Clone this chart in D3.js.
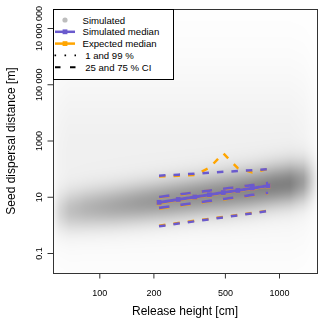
<!DOCTYPE html>
<html><head><meta charset="utf-8">
<script src="https://cdn.jsdelivr.net/npm/d3@7"></script>
<style>
body{margin:0;background:#fff;}
#wrap{position:relative;width:320px;height:325px;overflow:hidden;}
canvas,svg{position:absolute;left:0;top:0;}
text{font-family:"Liberation Sans",Arial,Helvetica,sans-serif;fill:#000;}
</style></head><body><div id="wrap"></div>
<script>
// ---- data ----
const heights   = [215, 275, 340, 410, 490, 590, 710, 870];          // release height [cm]
const simMedian = [6.3, 8.0, 9.8, 11.8, 14.1, 16.7, 20.2, 24.5];
const sim75     = [9.8, 12.0, 14.2, 16.6, 19.2, 22.1, 26.0, 30.6];
const sim25     = [4.0, 5.0, 6.0, 7.1, 8.3, 9.8, 11.6, 13.9];
const sim99     = [56, 61, 66, 72, 77, 82, 88, 96];
const sim01     = [0.89, 1.11, 1.34, 1.58, 1.85, 2.17, 2.58, 3.1];
const expMedian = [6.0, 7.8, 9.6, 11.5, 13.8, 16.4, 19.8, 24.0];
const exp75     = [9.5, 11.7, 14.0, 16.4, 18.8, 21.7, 25.6, 30.0];
const exp25     = [3.8, 4.8, 5.8, 6.9, 8.1, 9.6, 11.3, 13.6];
const exp99     = [52.5, 56, 60, 107, 349, 104, 73, 97];
const exp01     = [0.93, 1.16, 1.4, 1.64, 1.92, 2.25, 2.66, 3.2];

// simulated density cloud (smoothed scatter), sampled along release height
const densHeight = [55, 60, 68, 84, 120, 170, 250, 365, 500, 700, 950, 1150, 1370, 1550, 1650];
const densCenter = [0.43, 0.47, 0.50, 0.57, 0.66, 0.77, 0.89, 1.02, 1.12, 1.25, 1.39, 1.46, 1.53, 1.57, 1.60]; // log10 m
const densSd     = [0.50, 0.50, 0.50, 0.50, 0.50, 0.50, 0.50, 0.50, 0.52, 0.52, 0.52, 0.52, 0.52, 0.52, 0.52];
const densPeak   = [0.03, 0.12, 0.20, 0.25, 0.30, 0.34, 0.37, 0.39, 0.40, 0.42, 0.44, 0.44, 0.33, 0.12, 0.03];
const hazePeak   = [0.02, 0.05, 0.06, 0.06, 0.06, 0.06, 0.06, 0.06, 0.06, 0.06, 0.06, 0.06, 0.05, 0.03, 0.01];
const hazeCenter = 2.5, hazeSd = 2.2;

const xTicks = [100, 200, 500, 1000];
const xTickLabels = ["100", "200", "500", "1000"];
const yTicks = [0.1, 10, 1000, 1e5, 1e7];
const yTickLabels = ["0.1", "10", "1000", "100 000", "10 000 000"];

const legendLabels = ["Simulated", "Simulated median", "Expected median", " 1 and 99 %", " 25 and 75 % CI"];

// ---- layout ----
const W = 320, H = 325;
const P = {left: 53, right: 317, top: 9, bottom: 273};
const purple = "#6a5acd", orange = "#ffa500";

const x = d3.scaleLog().domain([100, 1000]).range([99.3, 279]);
const y = d3.scaleLog().domain([0.1, 1e7]).range([253, 28]);

const wrap = d3.select("#wrap");

// ---- density image on canvas ----
const canvas = wrap.append("canvas").attr("width", W).attr("height", H).node();
const ctx = canvas.getContext("2d");
ctx.fillStyle = "#fff"; ctx.fillRect(0, 0, W, H);
const img = ctx.getImageData(0, 0, W, H);
const cS = d3.scaleLog().domain(densHeight).range(densCenter).clamp(true);
const sS = d3.scaleLog().domain(densHeight).range(densSd).clamp(true);
const pS = d3.scaleLog().domain(densHeight).range(densPeak).clamp(true);
const hS = d3.scaleLog().domain(densHeight).range(hazePeak).clamp(true);
for (let px = P.left + 1; px < P.right; px++) {
  const h = x.invert(px + 0.5);
  const c = cS(h), sd = sS(h), pk = pS(h), hz = hS(h);
  for (let py = P.top + 1; py < P.bottom; py++) {
    const lv = Math.log10(y.invert(py + 0.5));
    const z = (lv - c) / sd, zh = (lv - hazeCenter) / hazeSd;
    const d = pk * Math.exp(-0.5 * z * z) + hz * Math.exp(-0.5 * zh * zh);
    const g = Math.round(255 * (1 - Math.min(1, d)));
    const i = (py * W + px) * 4;
    img.data[i] = g; img.data[i + 1] = g; img.data[i + 2] = g; img.data[i + 3] = 255;
  }
}
ctx.putImageData(img, 0, 0);

// ---- svg ----
const svg = wrap.append("svg").attr("width", W).attr("height", H);

const series = arr => arr.map((v, i) => ({h: heights[i], v}));
const line = d3.line().x(d => x(d.h)).y(d => y(d.v));

const outerDash = "6.5,8", innerDash = "10.5,11";
const g = svg.append("g");
function drawSet(col, med, q25, q75, q01, q99) {
  [q01, q99].forEach(s => g.append("path").attr("d", line(series(s)))
    .attr("fill", "none").attr("stroke", col).attr("stroke-width", 2.5).attr("stroke-dasharray", outerDash));
  [q25, q75].forEach(s => g.append("path").attr("d", line(series(s)))
    .attr("fill", "none").attr("stroke", col).attr("stroke-width", 2.7).attr("stroke-dasharray", innerDash));
  g.append("path").attr("d", line(series(med)))
    .attr("fill", "none").attr("stroke", col).attr("stroke-width", 3);
  g.selectAll(null).data(series(med)).enter().append("rect")
    .attr("x", d => x(d.h) - 2.4).attr("y", d => y(d.v) - 2.4)
    .attr("width", 4.8).attr("height", 4.8).attr("fill", col);
}
drawSet(orange, expMedian, exp25, exp75, exp01, exp99);
drawSet(purple, simMedian, sim25, sim75, sim01, sim99);

// box
svg.append("rect").attr("x", P.left + 0.5).attr("y", P.top + 0.5)
  .attr("width", P.right - P.left).attr("height", P.bottom - P.top)
  .attr("fill", "none").attr("stroke", "#333").attr("stroke-width", 1);

// x axis
const xa = svg.append("g").attr("transform", `translate(0,${P.bottom + 0.5})`)
  .call(d3.axisBottom(x).tickValues(xTicks).tickFormat((d, i) => xTickLabels[i]).tickSize(5).tickPadding(11));
xa.select(".domain").remove();
xa.selectAll("line").attr("stroke", "#333");
xa.selectAll("text").attr("font-size", 9).attr("font-family", "Liberation Sans, Arial, sans-serif");

// y axis
const ya = svg.append("g").attr("transform", `translate(${P.left + 0.5},0)`)
  .call(d3.axisLeft(y).tickValues(yTicks).tickFormat((d, i) => yTickLabels[i]).tickSize(6));
ya.select(".domain").remove();
ya.selectAll("line").attr("stroke", "#333");
ya.selectAll("text").attr("font-size", 9).attr("font-family", "Liberation Sans, Arial, sans-serif")
  .attr("text-anchor", "middle").attr("dy", null).attr("x", null)
  .attr("transform", "translate(-11.5,0) rotate(-90)");

// axis titles
svg.append("text").attr("x", (P.left + P.right) / 2).attr("y", 315)
  .attr("text-anchor", "middle").attr("font-size", 12).text("Release height [cm]");
svg.append("text").attr("transform", `translate(15,${(P.top + P.bottom) / 2}) rotate(-90)`)
  .attr("text-anchor", "middle").attr("font-size", 12).text("Seed dispersal distance [m]");

// legend
const lg = svg.append("g");
lg.append("rect").attr("x", P.left + 0.5).attr("y", P.top + 0.5).attr("width", 120).attr("height", 70)
  .attr("fill", "#fff").attr("stroke", "#000").attr("stroke-width", 1);
const ly = i => 23.5 + 11.8 * i;
lg.selectAll("text.lab").data(legendLabels).enter().append("text")
  .attr("x", 82.5).attr("y", (d, i) => ly(i)).attr("font-size", 9.6)
  .style("white-space", "pre").attr("xml:space", "preserve").text(d => d);
// symbols
lg.append("circle").attr("cx", 65).attr("cy", ly(0) - 3.5).attr("r", 2.6).attr("fill", "#bdbdbd");
[[purple, 1], [orange, 2]].forEach(([col, i]) => {
  lg.append("line").attr("x1", 55).attr("x2", 75).attr("y1", ly(i) - 3.5).attr("y2", ly(i) - 3.5)
    .attr("stroke", col).attr("stroke-width", 2.5);
  lg.append("rect").attr("x", 62.6).attr("y", ly(i) - 5.9).attr("width", 4.8).attr("height", 4.8).attr("fill", col);
});
lg.append("line").attr("x1", 54.5).attr("x2", 76).attr("y1", ly(3) - 3.5).attr("y2", ly(3) - 3.5)
  .attr("stroke", "#000").attr("stroke-width", 1.8).attr("stroke-dasharray", "1.6,8.4");
lg.append("line").attr("x1", 55).attr("x2", 76).attr("y1", ly(4) - 3.5).attr("y2", ly(4) - 3.5)
  .attr("stroke", "#000").attr("stroke-width", 2).attr("stroke-dasharray", "5.5,9.5");
</script></body></html>
